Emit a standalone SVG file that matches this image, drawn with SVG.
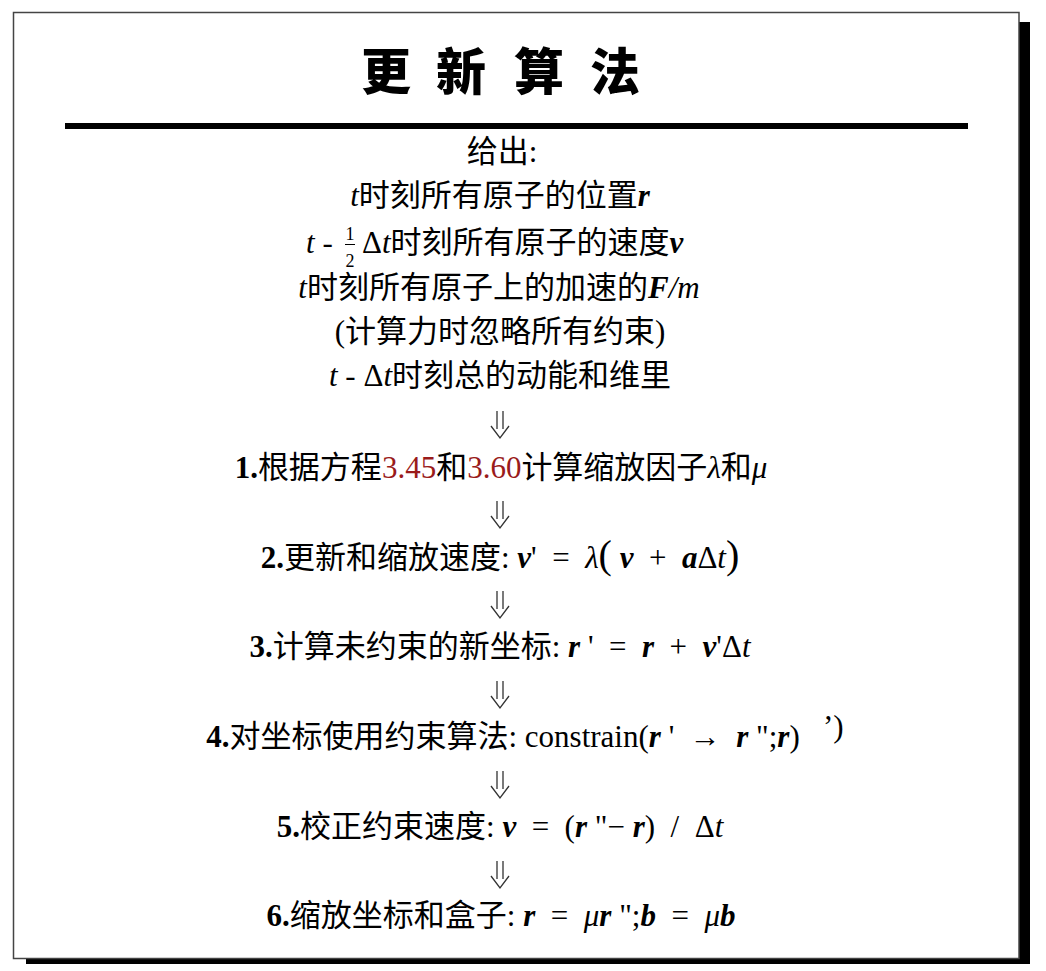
<svg xmlns="http://www.w3.org/2000/svg" width="1046" height="971" viewBox="0 0 1046 971">
<style>
.t{font-family:"Liberation Serif","Noto Sans CJK SC",serif;font-size:31px;fill:#000;text-anchor:middle}
.ts{font-family:"Liberation Serif","Noto Sans CJK SC",serif;font-size:31px;fill:#000}
.fr{font-family:"Liberation Serif",serif;font-size:18px;fill:#000;text-anchor:middle}
.i{font-style:italic}
.bi{font-style:italic;font-weight:bold}
.b{font-weight:bold}
.red{fill:#9a1b1b}
.title{font-family:"Noto Sans CJK SC",sans-serif;font-size:50px;font-weight:900;fill:#000;text-anchor:middle}
.arr{fill:none;stroke:#333;stroke-width:1.3}
</style>
<defs>
<g id="dbl">
<path class="arr" d="M497 0V18M503 0V18M491 15L500 27L509 15"/>
</g>
</defs>
<rect width="1046" height="971" fill="#fff"/>
<g id="frame">
<rect x="1019" y="22" width="11" height="942" fill="#000"/>
<rect x="26" y="959" width="1004" height="5" fill="#000"/>
<rect x="13.5" y="12.5" width="1005.5" height="946" fill="#fff" stroke="#444" stroke-width="1.5"/>
</g>
<g id="title">
<text class="title" x="386 461 539 615" y="90">更新算法</text>
<rect x="65" y="123" width="903" height="6" fill="#000"/>
</g>
<g id="given">
<text class="t" x="502" y="162">给出:</text>
<text class="t" x="500" y="206"><tspan class="i">t</tspan>时刻所有原子的位置<tspan class="bi">r</tspan></text>
<text class="ts" x="306" y="253"><tspan class="i">t</tspan> -</text>
<text class="fr" x="350" y="240">1</text>
<rect x="345" y="244" width="10" height="1" fill="#000"/>
<text class="fr" x="350" y="267">2</text>
<text class="ts" x="362" y="253">Δ<tspan class="i">t</tspan>时刻所有原子的速度<tspan class="bi">v</tspan></text>
<text class="t" x="499" y="298"><tspan class="i">t</tspan>时刻所有原子上的加速的<tspan class="bi">F</tspan><tspan class="i">/m</tspan></text>
<text class="t" x="500" y="342">(计算力时忽略所有约束)</text>
<text class="t" x="500" y="386"><tspan class="i">t</tspan> - Δ<tspan class="i">t</tspan>时刻总的动能和维里</text>
</g>
<g id="connectors">
<use href="#dbl" y="411"/>
<use href="#dbl" y="501"/>
<use href="#dbl" y="591"/>
<use href="#dbl" y="681"/>
<use href="#dbl" y="771"/>
<use href="#dbl" y="861"/>
</g>
<g id="step1"><text class="t" x="501" y="478"><tspan class="b">1.</tspan>根据方程<tspan class="red">3.45</tspan>和<tspan class="red">3.60</tspan>计算缩放因子<tspan class="i">λ</tspan>和<tspan class="i">μ</tspan></text></g>
<g id="step2"><text class="t" x="500" y="568"><tspan class="b">2.</tspan>更新和缩放速度: <tspan class="bi">v</tspan>'&#8194;=&#8194;<tspan class="i">λ</tspan><tspan font-size="40">(</tspan> <tspan class="bi">v</tspan>&#8194;+&#8194;<tspan class="bi">a</tspan>Δ<tspan class="i">t</tspan><tspan font-size="40">)</tspan></text></g>
<g id="step3"><text class="t" x="500" y="657"><tspan class="b">3.</tspan>计算未约束的新坐标: <tspan class="bi">r</tspan> '&#8194;=&#8194;<tspan class="bi">r</tspan>&#8194;+&#8194;<tspan class="bi">v</tspan>'Δ<tspan class="i">t</tspan></text></g>
<g id="step4"><text class="t" x="503" y="747"><tspan class="b">4.</tspan>对坐标使用约束算法: constrain(<tspan class="bi">r</tspan> '&#8194;→&#8194;<tspan class="bi">r</tspan> ";<tspan class="bi">r</tspan>)</text>
<text class="ts" x="823" y="737">’)</text></g>
<g id="step5"><text class="t" x="500" y="837"><tspan class="b">5.</tspan>校正约束速度: <tspan class="bi">v</tspan>&#8194;=&#8194;(<tspan class="bi">r</tspan> "− <tspan class="bi">r</tspan>)&#8194;/&#8194;Δ<tspan class="i">t</tspan></text></g>
<g id="step6"><text class="t" x="501" y="926"><tspan class="b">6.</tspan>缩放坐标和盒子: <tspan class="bi">r</tspan>&#8194;=&#8194;<tspan class="i">μ</tspan><tspan class="bi">r</tspan> ";<tspan class="bi">b</tspan>&#8194;=&#8194;<tspan class="i">μ</tspan><tspan class="bi">b</tspan></text></g>
</svg>
